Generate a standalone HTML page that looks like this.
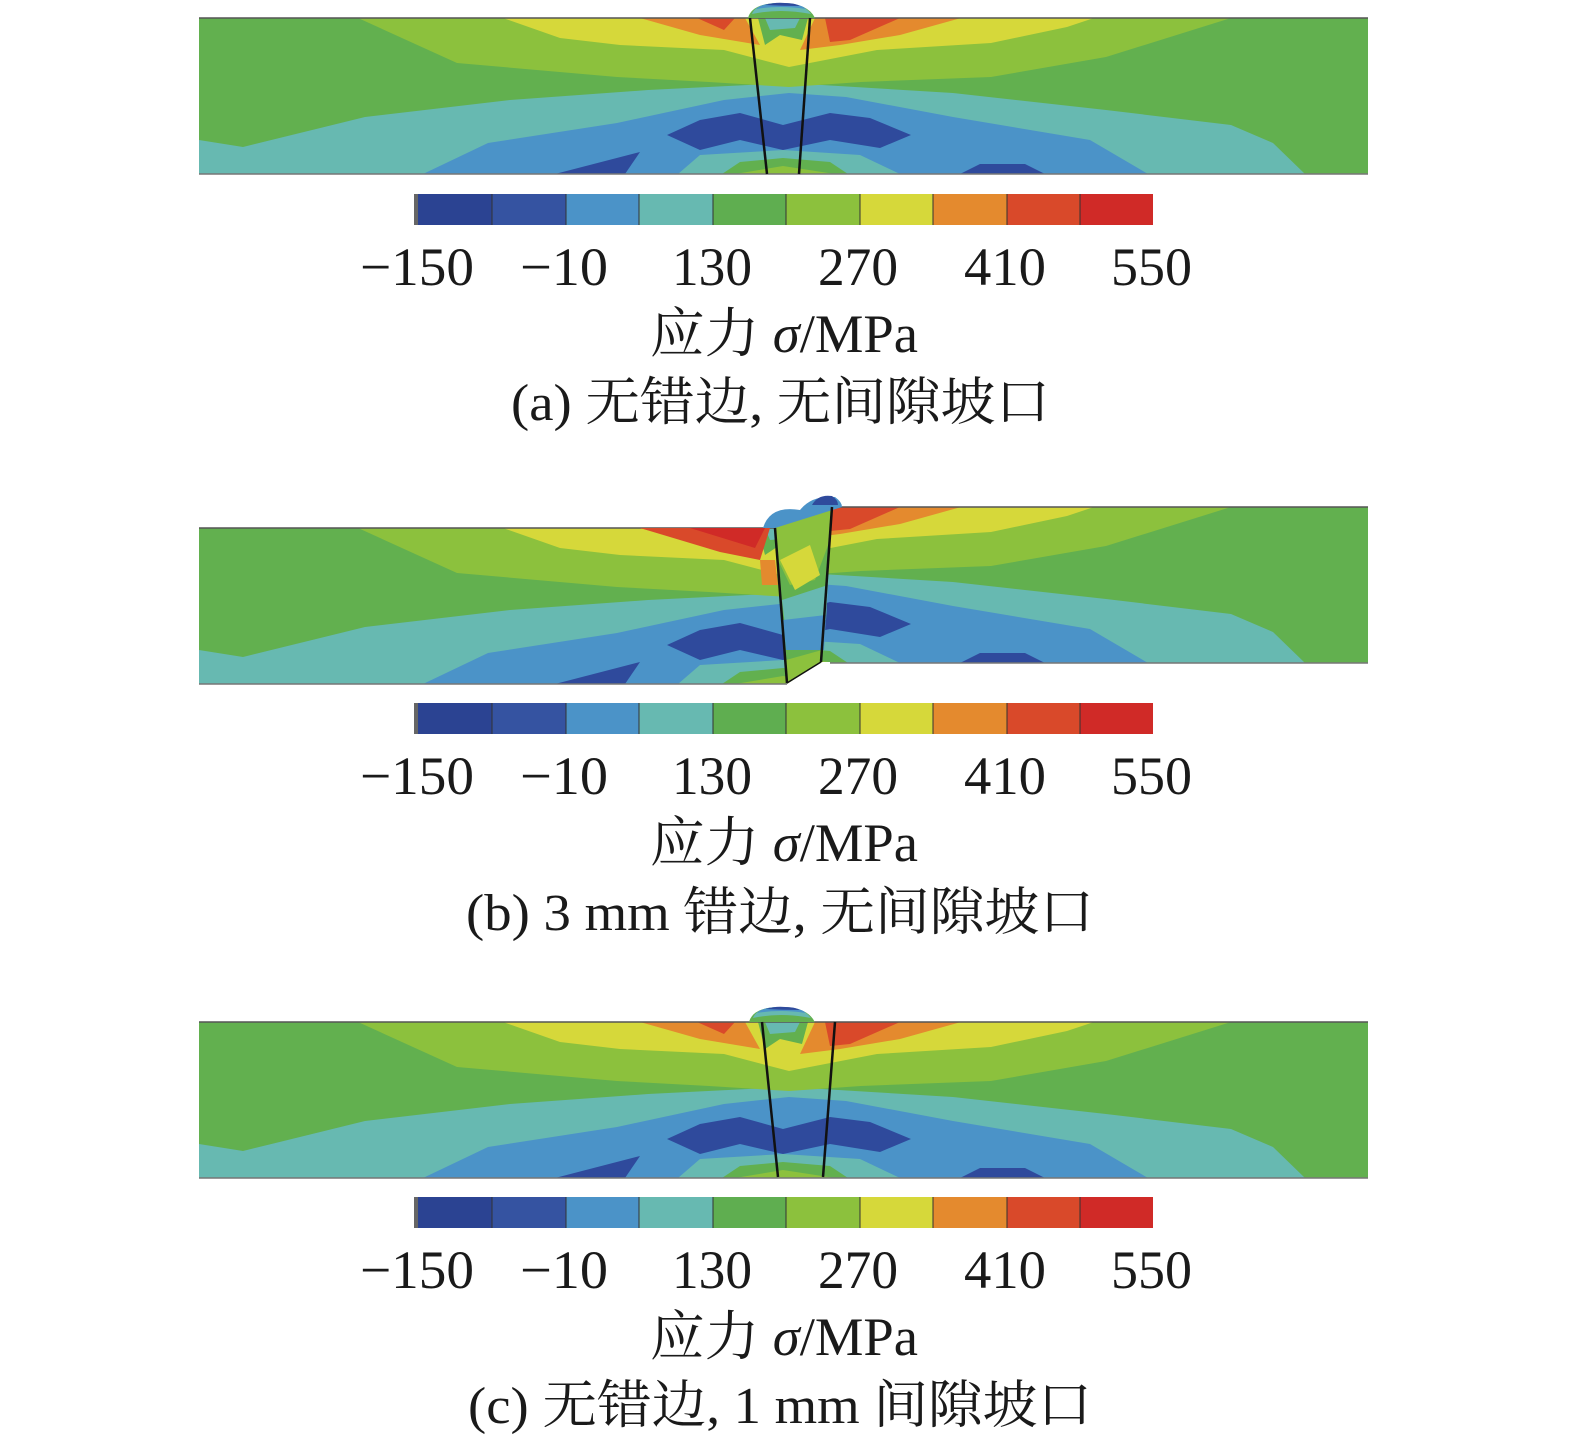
<!DOCTYPE html>
<html><head><meta charset="utf-8"><style>
html,body{margin:0;padding:0;background:#fff;}
svg{display:block;}
.t{font-family:"Liberation Serif","Noto Serif CJK SC",serif;fill:#1a1a1a;}
</style></head><body>
<svg width="1575" height="1448" viewBox="0 0 1575 1448" xmlns="http://www.w3.org/2000/svg">
<defs>
<g id="plate">
<rect x="199" y="18" width="1169" height="156" fill="#62b04f"/>
<polygon fill="#67b9b1" points="199,140 243,147 365,117 510,100 648,90 789,83 953,93 1106,110 1231,125 1273,143 1305,174 199,174"/>
<polygon fill="#4b93c8" points="423,174 488,143 617,123 724,100 789,93 846,97 953,117 1090,140 1148,174"/>
<polygon fill="#2f4a9c" points="667,135 700,120 740,113 783,125 830,113 870,118 911,135 880,148 830,140 783,150 740,140 700,150"/>
<polygon fill="#67b9b1" points="678,174 700,155 783,150 860,155 900,174"/>
<polygon fill="#62b04f" points="722,174 740,162 783,158 830,162 848,174"/>
<polygon fill="#8cc13d" points="735,174 783,166 835,174"/>
<polygon fill="#2f4a9c" points="555,174 640,152 625,174"/>
<polygon fill="#2f4a9c" points="960,174 980,164 1025,164 1045,174"/>
<polygon fill="#8cc13d" points="358,18 1231,18 1106,57 991,77 861,82 789,87 709,82 617,77 457,63"/>
<polygon fill="#d6d83a" points="503,18 1094,18 1067,27 991,43 877,50 789,67 724,50 620,45 560,38"/>
<polygon fill="#e48a2e" points="640,18 745,18 760,45 730,40 700,35"/>
<polygon fill="#e48a2e" points="815,18 961,18 900,35 840,45 800,50"/>
<polygon fill="#d9492a" points="697,18 735,18 724,30"/>
<polygon fill="#d9492a" points="825,18 900,18 850,40 830,42"/>
<polygon fill="#62b04f" points="758,18 808,18 802,40 780,35 765,45"/>
<polygon fill="#67b9b1" points="765,18 800,18 795,28 770,30"/>
<line x1="199" y1="18" x2="1368" y2="18" stroke="#555" stroke-width="1.5"/>
<line x1="199" y1="174" x2="1368" y2="174" stroke="#777" stroke-width="1.5"/>
</g>
<g id="cap">
<path d="M748,18 Q752,3 780,3 Q808,3 815,18 Z" fill="#62b04f"/>
<path d="M752,14 Q756,3 780,3 Q804,3 811,14 Q780,8 752,14 Z" fill="#67b9b1"/>
<path d="M756,9 Q762,3 780,3 Q800,3 806,9 Q780,5 756,9 Z" fill="#4b93c8"/>
<path d="M765,5 Q775,2 785,3 Q795,3 800,6 Q782,6 765,5 Z" fill="#2f4a9c"/>
</g>
<g id="cbar">
<rect x="414" y="194" width="4" height="31" fill="#666"/>
<rect x="418" y="194" width="74" height="31" fill="#2b4392"/>
<rect x="492" y="194" width="74" height="31" fill="#3553a1"/>
<rect x="566" y="194" width="73" height="31" fill="#4b93c8"/>
<rect x="639" y="194" width="74" height="31" fill="#67b9b1"/>
<rect x="713" y="194" width="73" height="31" fill="#5fae50"/>
<rect x="786" y="194" width="74" height="31" fill="#8cc13d"/>
<rect x="860" y="194" width="73" height="31" fill="#d6d83a"/>
<rect x="933" y="194" width="74" height="31" fill="#e48a2e"/>
<rect x="1007" y="194" width="73" height="31" fill="#d9492a"/>
<rect x="1080" y="194" width="73" height="31" fill="#d02a27"/>
<g stroke="#333" stroke-width="1">
<line x1="492" y1="194" x2="492" y2="225"/><line x1="566" y1="194" x2="566" y2="225"/><line x1="639" y1="194" x2="639" y2="225"/><line x1="713" y1="194" x2="713" y2="225"/><line x1="786" y1="194" x2="786" y2="225"/><line x1="860" y1="194" x2="860" y2="225"/><line x1="933" y1="194" x2="933" y2="225"/><line x1="1007" y1="194" x2="1007" y2="225"/><line x1="1080" y1="194" x2="1080" y2="225"/>
</g>
<g class="t" font-size="54">
<text x="360" y="285" textLength="114" lengthAdjust="spacingAndGlyphs">−150</text>
<text x="520" y="285" textLength="88" lengthAdjust="spacingAndGlyphs">−10</text>
<text x="672" y="285" textLength="80" lengthAdjust="spacingAndGlyphs">130</text>
<text x="818" y="285" textLength="80" lengthAdjust="spacingAndGlyphs">270</text>
<text x="964" y="285" textLength="82" lengthAdjust="spacingAndGlyphs">410</text>
<text x="1111" y="285" textLength="81" lengthAdjust="spacingAndGlyphs">550</text>
<text x="650" y="352" textLength="268" lengthAdjust="spacingAndGlyphs">应力 <tspan font-style="italic">σ</tspan>/MPa</text>
</g>
</g>
<clipPath id="cl"><rect x="0" y="0" width="800" height="200"/></clipPath>
<clipPath id="cr"><rect x="815" y="0" width="800" height="200"/></clipPath>
</defs>

<!-- (a) -->
<use href="#plate"/>
<use href="#cap"/>
<line x1="750" y1="18" x2="767" y2="174" stroke="#111" stroke-width="2.5"/>
<line x1="810" y1="18" x2="799" y2="174" stroke="#111" stroke-width="2.5"/>
<use href="#cbar"/>
<text class="t" x="511" y="420" font-size="52" textLength="539" lengthAdjust="spacingAndGlyphs">(a) 无错边, 无间隙坡口</text>

<!-- (b) -->
<g clip-path="url(#cl)" transform="translate(0,510)"><use href="#plate"/></g>
<g clip-path="url(#cr)" transform="translate(0,489)"><use href="#plate"/></g>
<polygon fill="#fff" points="787,684 821,662 830,662 830,692 787,692"/>
<!-- weld region -->
<polygon fill="#62b04f" points="775,528 832,507 822,662 787,683"/>
<polygon fill="#8cc13d" points="775,528 832,507 830,540 815,580 790,585 778,560"/>
<polygon fill="#d6d83a" points="780,560 810,545 820,575 795,590"/>
<polygon fill="#67b9b1" points="782,600 828,585 826,620 785,625"/>
<polygon fill="#4b93c8" points="783,620 826,615 824,650 786,650"/>
<polygon fill="#8cc13d" points="786,660 822,650 822,662 787,683"/>
<polygon fill="#d9492a" points="640,528 770,528 760,560 720,552"/>
<polygon fill="#d02a27" points="690,528 765,528 755,548"/>
<polygon fill="#e48a2e" points="760,560 775,560 778,585 762,585"/>
<path d="M763,528 Q770,505 800,510 Q812,495 835,497 Q842,502 842,507 L775,528 Z" fill="#4b93c8"/>
<path d="M812,505 Q818,494 832,496 Q838,500 838,505 Z" fill="#2f4a9c"/>
<line x1="775" y1="528" x2="787" y2="683" stroke="#111" stroke-width="2.5"/>
<line x1="832" y1="507" x2="821" y2="662" stroke="#111" stroke-width="2.5"/>
<line x1="787" y1="683" x2="821" y2="662" stroke="#111" stroke-width="1.5"/>
<use href="#cbar" transform="translate(0,509)"/>
<text class="t" x="466" y="930" font-size="52" textLength="628" lengthAdjust="spacingAndGlyphs">(b) 3 mm 错边, 无间隙坡口</text>

<!-- (c) -->
<g transform="translate(0,1004)"><use href="#plate"/><use href="#cap" transform="translate(16,0) scale(0.98,1)"/></g>
<line x1="762" y1="1022" x2="778" y2="1177" stroke="#111" stroke-width="2.5"/>
<line x1="835" y1="1022" x2="823" y2="1177" stroke="#111" stroke-width="2.5"/>
<use href="#cbar" transform="translate(0,1003)"/>
<text class="t" x="468" y="1423" font-size="52" textLength="624" lengthAdjust="spacingAndGlyphs">(c) 无错边, 1 mm 间隙坡口</text>
</svg>
</body></html>
